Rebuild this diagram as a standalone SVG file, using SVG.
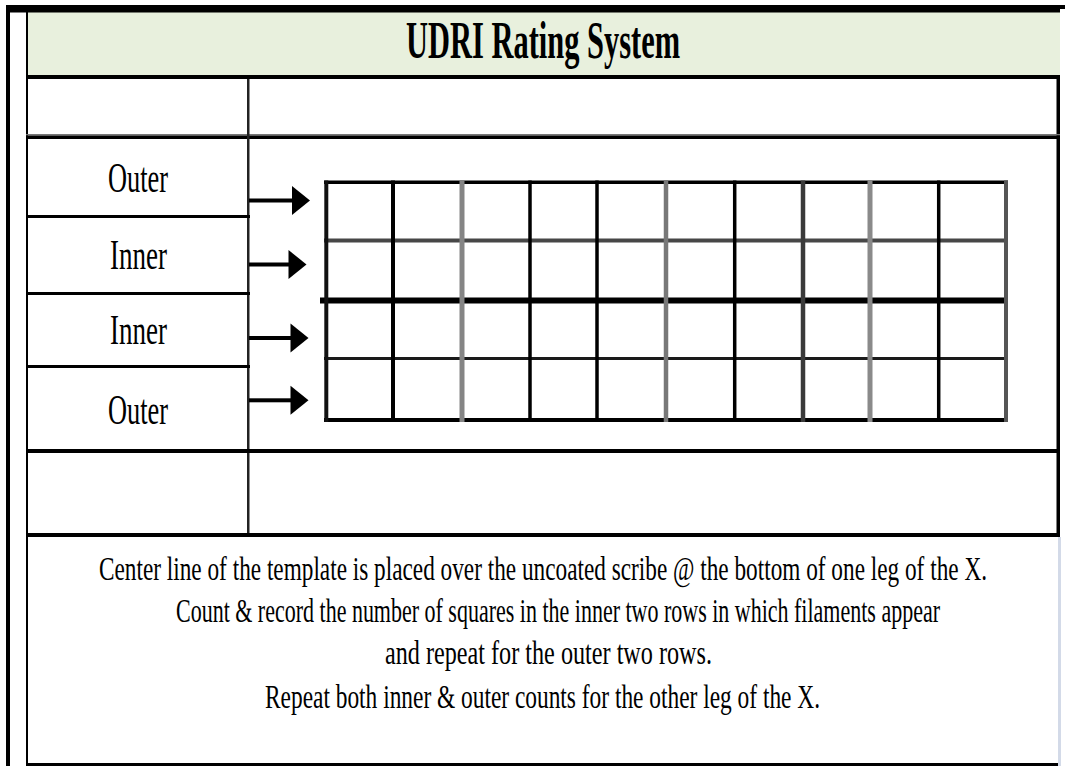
<svg xmlns="http://www.w3.org/2000/svg" width="1065" height="766" viewBox="0 0 1065 766">
<style>
.t{font-family:"Liberation Serif","Times New Roman",serif;fill:#000}
.title{font-size:52px;font-weight:bold}
.lbl{font-size:43px}
.body{font-size:34px}
.blk{fill:#000}
.gl{stroke-linecap:butt;fill:none}
</style>
<rect x="0" y="0" width="1065" height="766" fill="#fff"/>
<g id="frame">
<rect x="28" y="12" width="1032" height="63" fill="#E8F0DD"/>
<rect class="blk" x="6" y="5" width="1059" height="4"/>
<rect class="blk" x="6" y="8" width="1054" height="4.5"/>
<rect class="blk" x="6" y="5" width="4" height="761"/>
<rect class="blk" x="26" y="12" width="2" height="754"/>
<rect class="blk" x="26" y="75" width="1034" height="4"/>
<rect class="blk" x="1056.5" y="75" width="3.5" height="462"/>
<rect x="1058" y="537" width="3" height="229" fill="#D3DAE8"/>
<rect x="26" y="134" width="1034" height="1.5" fill="#777"/>
<rect class="blk" x="26" y="135.5" width="1034" height="3.5"/>
<rect x="247" y="79" width="2.5" height="456" fill="#222"/>
<rect class="blk" x="26" y="215" width="224" height="3"/>
<rect class="blk" x="26" y="292" width="224" height="3"/>
<rect class="blk" x="26" y="365" width="224" height="3"/>
<rect class="blk" x="26" y="449" width="1034" height="4"/>
<rect class="blk" x="26" y="533" width="1034" height="4"/>
<rect class="blk" x="26" y="763" width="1032" height="3"/>
</g>
<g id="title">
<text class="t title" transform="translate(406,58) scale(0.585,1)" x="0" y="0" textLength="468.4" lengthAdjust="spacingAndGlyphs">UDRI Rating System</text>
</g>
<g id="label-outer-1"><text class="t lbl" transform="translate(108,192) scale(0.61,1)" x="0" y="0" textLength="98.4" lengthAdjust="spacingAndGlyphs">Outer</text></g>
<g id="label-inner-1"><text class="t lbl" transform="translate(110,269) scale(0.63,1)" x="0" y="0" textLength="90.5" lengthAdjust="spacingAndGlyphs">Inner</text></g>
<g id="label-inner-2"><text class="t lbl" transform="translate(110,344) scale(0.63,1)" x="0" y="0" textLength="90.5" lengthAdjust="spacingAndGlyphs">Inner</text></g>
<g id="label-outer-2"><text class="t lbl" transform="translate(108,424) scale(0.61,1)" x="0" y="0" textLength="98.4" lengthAdjust="spacingAndGlyphs">Outer</text></g>
<g id="template-grid">
<g stroke="#000" class="gl">
<line x1="324" y1="182.3" x2="1008" y2="182.3" stroke-width="3.5"/>
<line x1="324" y1="240.5" x2="1008" y2="240.5" stroke="#474747" stroke-width="4"/>
<line x1="320" y1="300.5" x2="1008" y2="300.5" stroke-width="6"/>
<line x1="324" y1="358.5" x2="1008" y2="358.5" stroke="#1a1a1a" stroke-width="3"/>
<line x1="324" y1="420" x2="1008" y2="420" stroke-width="4"/>
</g>
<g class="gl" stroke-width="4">
<line x1="326.3" y1="180.5" x2="326.3" y2="422" stroke="#111"/>
<line x1="393" y1="180.5" x2="393" y2="422" stroke="#000"/>
<line x1="462" y1="180.5" x2="462" y2="422" stroke="#858585" stroke-width="5"/>
<line x1="530" y1="180.5" x2="530" y2="422" stroke="#000" stroke-width="3.5"/>
<line x1="597" y1="180.5" x2="597" y2="422" stroke="#000" stroke-width="3.5"/>
<line x1="666" y1="180.5" x2="666" y2="422" stroke="#787878" stroke-width="4.5"/>
<line x1="734.7" y1="180.5" x2="734.7" y2="422" stroke="#000" stroke-width="3.5"/>
<line x1="803" y1="180.5" x2="803" y2="422" stroke="#3a3a3a" stroke-width="4.5"/>
<line x1="870" y1="180.5" x2="870" y2="422" stroke="#8a8a8a" stroke-width="5"/>
<line x1="938.7" y1="180.5" x2="938.7" y2="422" stroke="#000" stroke-width="3.5"/>
<line x1="1006" y1="180.5" x2="1006" y2="422" stroke="#555" stroke-width="4"/>
</g>
</g>
<g id="connectors">
<rect class="blk" x="249" y="198.5" width="45" height="4"/>
<polygon class="blk" points="292,186 310,200.5 292,215"/>
<rect class="blk" x="249" y="262.5" width="41" height="4"/>
<polygon class="blk" points="288.5,250 306.5,264.5 288.5,279"/>
<rect class="blk" x="249" y="336" width="43" height="4"/>
<polygon class="blk" points="290.5,323.5 308.5,338 290.5,352.5"/>
<rect class="blk" x="249" y="398.3" width="43" height="4"/>
<polygon class="blk" points="290.5,385.8 308.5,400.3 290.5,414.8"/>
</g>
<g id="instructions">
<text class="t body" transform="translate(99,580) scale(0.68,1)" x="0" y="0" textLength="1305.9" lengthAdjust="spacingAndGlyphs">Center line of the template is placed over the uncoated scribe @ the bottom of one leg of the X.</text>
<text class="t body" transform="translate(176,622) scale(0.68,1)" x="0" y="0" textLength="1123.5" lengthAdjust="spacingAndGlyphs">Count &amp; record the number of squares in the inner two rows in which filaments appear</text>
<text class="t body" transform="translate(385,664) scale(0.68,1)" x="0" y="0" textLength="480.9" lengthAdjust="spacingAndGlyphs">and repeat for the outer two rows.</text>
<text class="t body" transform="translate(265,708) scale(0.68,1)" x="0" y="0" textLength="816.2" lengthAdjust="spacingAndGlyphs">Repeat both inner &amp; outer counts for the other leg of the X.</text>
</g>
</svg>
